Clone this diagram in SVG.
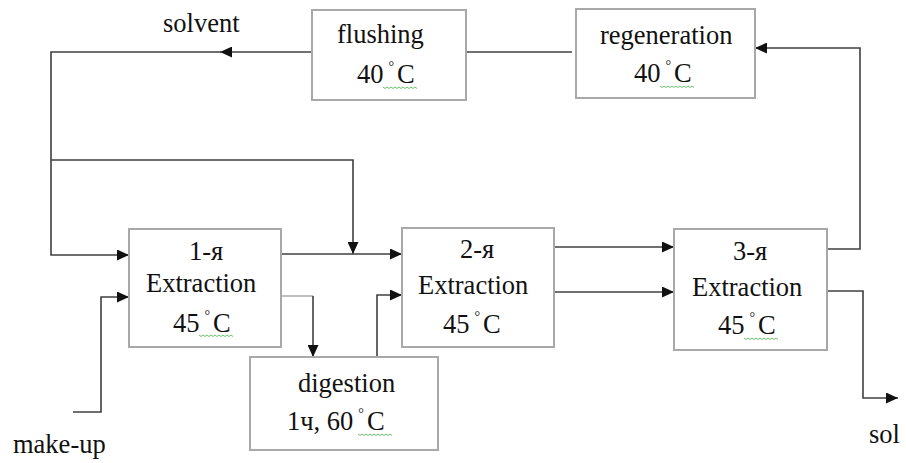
<svg xmlns="http://www.w3.org/2000/svg" width="906" height="463" viewBox="0 0 906 463">
<style>
.box{fill:#fff;stroke:#a8a8a8;stroke-width:2}
.ln{fill:none;stroke:#404040;stroke-width:1.6}
.lt{fill:none;stroke:#b0b0b0;stroke-width:1.6}
.sq{fill:none;stroke:#6cbf6c;stroke-width:1}
.t{font-family:'Liberation Serif','Times New Roman',serif;font-size:26.5px;fill:#111}
.d{font-size:14px}
</style>
<defs>
<marker id="ah" markerUnits="userSpaceOnUse" markerWidth="12" markerHeight="11" refX="12" refY="5.5" orient="auto">
<path d="M0,0 L12,5.5 L0,11 z" fill="#111"/>
</marker>
</defs>
<rect width="906" height="463" fill="#fff"/>
<g id="connectors">
<path class="ln" d="M312,52 L220,52" marker-end="url(#ah)"/>
<path class="ln" d="M222,52 L51,52 L51,255 L129,255" marker-end="url(#ah)"/>
<path class="ln" d="M51,160 L353,160 L353,254" marker-end="url(#ah)"/>
<path class="ln" d="M281,254 L402,254" marker-end="url(#ah)"/>
<path class="ln" d="M73,412 L101,412 L101,297 L129,297" marker-end="url(#ah)"/>
<path class="lt" d="M281,296 L313,296"/>
<path class="ln" d="M313,296 L313,357" marker-end="url(#ah)"/>
<path class="ln" d="M377,357 L377,295 L402,295" marker-end="url(#ah)"/>
<path class="ln" d="M554,247 L674,247" marker-end="url(#ah)"/>
<path class="ln" d="M554,292 L674,292" marker-end="url(#ah)"/>
<path class="ln" d="M827,249 L860,249 L860,48 L755,48" marker-end="url(#ah)"/>
<path class="ln" d="M827,291 L863,291 L863,398 L898,398" marker-end="url(#ah)"/>
<path class="ln" d="M466,52 L572,52"/>
</g>
<g id="flushing">
<rect class="box" x="312" y="10" width="154" height="90"/>
<text class="t" x="337" y="43">flushing</text>
<text class="t" x="357" y="83">40<tspan class="d" dx="5" dy="-12">°</tspan><tspan dx="3" dy="12">C</tspan></text>
<path class="sq" d="M383,87 l2,1.5 l2,-1.5 l2,1.5 l2,-1.5 l2,1.5 l2,-1.5 l2,1.5 l2,-1.5 l2,1.5 l2,-1.5 l2,1.5 l2,-1.5 l2,1.5 l2,-1.5 l2,1.5 l2,-1.5 l2,1.5"/>
</g>
<g id="regeneration">
<rect class="box" x="576" y="9" width="179" height="89"/>
<text class="t" x="600" y="44">regeneration</text>
<text class="t" x="634" y="82">40<tspan class="d" dx="5" dy="-12">°</tspan><tspan dx="3" dy="12">C</tspan></text>
<path class="sq" d="M660,86 l2,1.5 l2,-1.5 l2,1.5 l2,-1.5 l2,1.5 l2,-1.5 l2,1.5 l2,-1.5 l2,1.5 l2,-1.5 l2,1.5 l2,-1.5 l2,1.5 l2,-1.5 l2,1.5 l2,-1.5 l2,1.5"/>
</g>
<g id="extraction1">
<rect class="box" x="129" y="229" width="152" height="118"/>
<text class="t" x="189" y="260">1-я</text>
<text class="t" x="146" y="292">Extraction</text>
<text class="t" x="173" y="332">45<tspan class="d" dx="5" dy="-12">°</tspan><tspan dx="3" dy="12">C</tspan></text>
<path class="sq" d="M199,335 l2,1.5 l2,-1.5 l2,1.5 l2,-1.5 l2,1.5 l2,-1.5 l2,1.5 l2,-1.5 l2,1.5 l2,-1.5 l2,1.5 l2,-1.5 l2,1.5 l2,-1.5 l2,1.5 l2,-1.5 l2,1.5"/>
</g>
<g id="extraction2">
<rect class="box" x="402" y="228" width="152" height="119"/>
<text class="t" x="460" y="258">2-я</text>
<text class="t" x="418" y="294">Extraction</text>
<text class="t" x="443" y="333">45<tspan class="d" dx="5" dy="-12">°</tspan><tspan dx="3" dy="12">C</tspan></text>
</g>
<g id="extraction3">
<rect class="box" x="674" y="229" width="153" height="121"/>
<text class="t" x="733" y="260">3-я</text>
<text class="t" x="692" y="296">Extraction</text>
<text class="t" x="718" y="334">45<tspan class="d" dx="5" dy="-12">°</tspan><tspan dx="3" dy="12">C</tspan></text>
<path class="sq" d="M744,338 l2,1.5 l2,-1.5 l2,1.5 l2,-1.5 l2,1.5 l2,-1.5 l2,1.5 l2,-1.5 l2,1.5 l2,-1.5 l2,1.5 l2,-1.5 l2,1.5 l2,-1.5 l2,1.5 l2,-1.5 l2,1.5"/>
</g>
<g id="digestion">
<rect class="box" x="250" y="357" width="188" height="93"/>
<text class="t" x="298" y="392">digestion</text>
<text class="t" x="287" y="430">1ч, 60<tspan class="d" dx="5" dy="-12">°</tspan><tspan dx="3" dy="12">C</tspan></text>
<path class="sq" d="M358,434 l2,1.5 l2,-1.5 l2,1.5 l2,-1.5 l2,1.5 l2,-1.5 l2,1.5 l2,-1.5 l2,1.5 l2,-1.5 l2,1.5 l2,-1.5 l2,1.5 l2,-1.5 l2,1.5 l2,-1.5 l2,1.5"/>
</g>
<g id="labels">
<text class="t" x="163" y="32">solvent</text>
<text class="t" x="13" y="453">make-up</text>
<text class="t" x="869" y="443">sol</text>
</g>
</svg>
